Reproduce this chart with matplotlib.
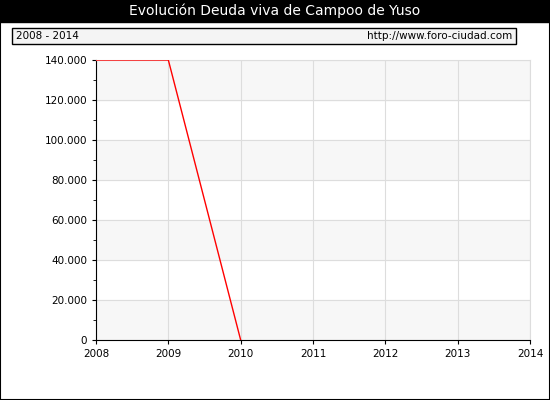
import matplotlib
matplotlib.use("Agg")
import matplotlib.pyplot as plt
from matplotlib.patches import Rectangle

years = [2008, 2009, 2010]
deuda = [140000, 140000, 0]
yticks = [0, 20000, 40000, 60000, 80000, 100000, 120000, 140000]
ylabels = ["0", "20.000", "40.000", "60.000", "80.000", "100.000", "120.000", "140.000"]
xticks = [2008, 2009, 2010, 2011, 2012, 2013, 2014]

W, H = 550, 400
fig = plt.figure(figsize=(5.5, 4), dpi=100)
fig.patch.set_facecolor("white")
# border
fig.add_artist(Rectangle((0, 0), 1, 1, transform=fig.transFigure, fill=False, edgecolor="black", lw=1.5))
# title bar
fig.add_artist(Rectangle((0, 1 - 22 / H), 1, 22 / H, transform=fig.transFigure, facecolor="black", edgecolor="black"))
fig.text(0.5, 1 - 11 / H, "Evolución Deuda viva de Campoo de Yuso", color="white", ha="center", va="center", fontsize=10)
# subheader box
fig.add_artist(Rectangle((12 / W, 1 - 44 / H), 504 / W, 16 / H, transform=fig.transFigure, facecolor="#f4f4f4", edgecolor="black", lw=1))
fig.text(16 / W, 1 - 36 / H, "2008 - 2014", fontsize=7.5, va="center")
fig.text(512 / W, 1 - 36 / H, "http://www.foro-ciudad.com", fontsize=7.5, va="center", ha="right")

ax = fig.add_axes([96 / W, 1 - 340 / H, 434 / W, 280 / H])
for i in range(0, 140000, 40000):
    ax.axhspan(i, i + 20000, color="#f7f7f7", zorder=0)
ax.axhspan(120000, 140000, color="#f7f7f7", zorder=0)
ax.plot(years, deuda, color="red", lw=1, zorder=3)
ax.set_xlim(2008, 2014)
ax.set_ylim(0, 140000)
ax.set_xticks(xticks)
ax.set_xticklabels([str(x) for x in xticks], fontsize=7.5)
ax.set_yticks(yticks)
ax.set_yticklabels(ylabels, fontsize=7.5)
ax.set_yticks(range(10000, 140000, 20000), minor=True)
ax.grid(True, color="#dddddd", lw=0.8, zorder=1)
for s in ["top", "right"]:
    ax.spines[s].set_color("#dddddd")
ax.tick_params(length=3)
ax.tick_params(which="minor", length=2)
fig.savefig("out.png", dpi=100)
